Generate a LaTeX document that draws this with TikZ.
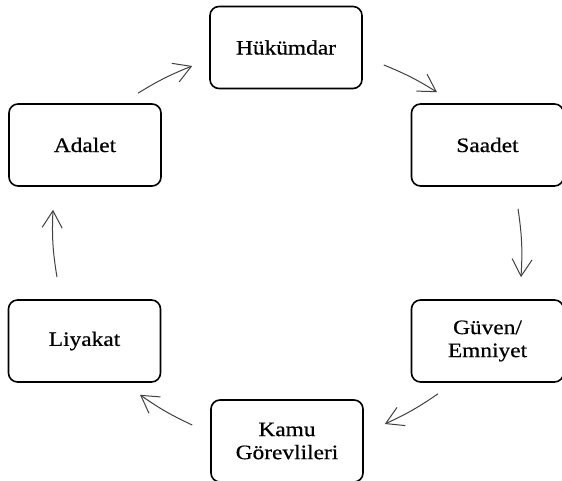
\documentclass[tikz,border=0pt]{standalone}
\usepackage{fontspec}
\setmainfont{Liberation Serif}[FakeStretch=1.14,FakeBold=0.6]
\usetikzlibrary{arrows.meta}

\begin{document}
\begin{tikzpicture}[x=1pt,y=1pt,
  box/.style={draw, line width=1.6pt, rounded corners=9pt, minimum width=152pt, minimum height=82pt, align=center, font=\fontsize{20.5}{23}\selectfont},
  flow/.style={draw=black!75, line width=1pt, -{Straight Barb[length=17pt,width=20pt]}}]
\useasboundingbox (0,0) rectangle (562,481);

\node[box] (hukumdar) at (286,433.5) {Hükümdar};
\node[box] (saadet) at (487.5,336) {Saadet};
\node[box] (guven) at (487.5,140) {Güven/\\Emniyet};
\node[box] (kamu) at (287,40) {Kamu\\Görevlileri};
\node[box] (liyakat) at (84.5,140) {Liyakat};
\node[box] (adalet) at (85,336) {Adalet};

\draw[flow] ([shift={(53,10)}]adalet.north) to[bend left=5] ([shift={(-17,-18.5)}]hukumdar.west);
\draw[flow] ([shift={(21,-17.5)}]hukumdar.east) to[bend left=5] ([shift={(-50.5,11)}]saadet.north);
\draw[flow] ([shift={(30.5,-22)}]saadet.south) to[bend left=6] ([shift={(33.5,22)}]guven.north);
\draw[flow] ([shift={(-49.5,-11)}]guven.south) to[bend left=5] ([shift={(21,17)}]kamu.east);
\draw[flow] ([shift={(-18,16)}]kamu.west) to[bend left=5] ([shift={(55.5,-12)}]liyakat.south);
\draw[flow] ([shift={(-27.5,22)}]liyakat.north) to[bend left=6] ([shift={(-32,-23)}]adalet.south);
\end{tikzpicture}
\end{document}
